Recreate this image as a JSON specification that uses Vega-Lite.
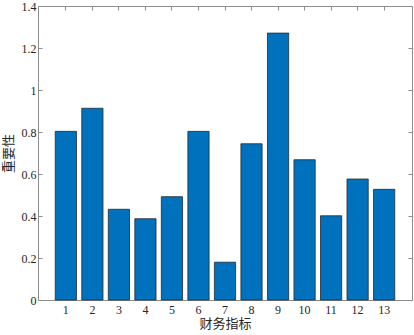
{
  "$schema": "https://vega.github.io/schema/vega-lite/v6.json",
  "width": 374,
  "height": 294,
  "autosize": {"type": "none"},
  "padding": {"left": 38, "top": 6, "right": 2, "bottom": 35},
  "background": "white",
  "data": {"values": [
    {"idx": "1", "v": 0.803},
    {"idx": "2", "v": 0.913},
    {"idx": "3", "v": 0.432},
    {"idx": "4", "v": 0.387},
    {"idx": "5", "v": 0.492},
    {"idx": "6", "v": 0.803},
    {"idx": "7", "v": 0.18},
    {"idx": "8", "v": 0.744},
    {"idx": "9", "v": 1.271},
    {"idx": "10", "v": 0.668},
    {"idx": "11", "v": 0.401},
    {"idx": "12", "v": 0.576},
    {"idx": "13", "v": 0.527}
  ]},
  "config": {
    "view": {"stroke": null},
    "axis": {
      "grid": false,
      "domainColor": "#8c8c8c",
      "tickColor": "#8c8c8c",
      "tickSize": -4,
      "labelFont": "Liberation Serif",
      "labelFontSize": 12,
      "labelColor": "#262626",
      "titleFont": "Liberation Serif, Noto Sans CJK SC",
      "titleFontSize": 13,
      "titleFontWeight": "normal",
      "titleColor": "#262626"
    }
  },
  "resolve": {"axis": {"x": "independent", "y": "independent"}},
  "layer": [
    {
      "mark": {"type": "bar", "fill": "#0072BD", "stroke": "#1f2a33", "strokeWidth": 0.8},
      "encoding": {
        "x": {
          "field": "idx", "type": "ordinal", "sort": null,
          "scale": {"paddingInner": 0.2, "paddingOuter": 0.65},
          "axis": {"title": "财务指标", "labelAngle": 0, "labelPadding": 8, "titlePadding": 2}
        },
        "y": {
          "field": "v", "type": "quantitative",
          "scale": {"domain": [0, 1.4], "nice": false},
          "axis": {"title": "重要性", "values": [0, 0.2, 0.4, 0.6, 0.8, 1, 1.2, 1.4], "format": "~g", "labelPadding": 6, "titlePadding": 6}
        }
      }
    },
    {
      "mark": {"type": "bar", "opacity": 0},
      "encoding": {
        "x": {
          "field": "idx", "type": "ordinal", "sort": null,
          "axis": {"orient": "top", "title": null, "labels": false}
        },
        "y": {
          "field": "v", "type": "quantitative",
          "axis": {"orient": "right", "title": null, "labels": false, "values": [0, 0.2, 0.4, 0.6, 0.8, 1, 1.2, 1.4]}
        }
      }
    }
  ]
}
